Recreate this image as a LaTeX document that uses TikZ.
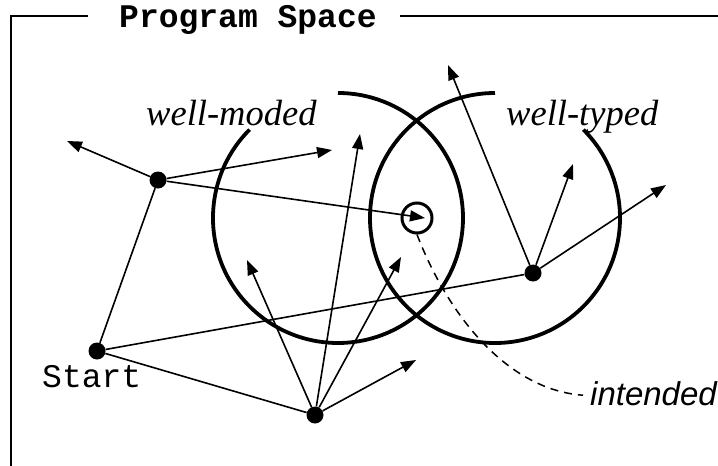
\documentclass[tikz,border=0pt]{standalone}
\usepackage{fontspec}
\setmainfont{Liberation Serif}
\newfontfamily\cmono{Liberation Mono}
\newfontfamily\csans{Liberation Sans}
\usetikzlibrary{arrows.meta}
\begin{document}
\begin{tikzpicture}[x=1pt,y=-1pt,
  dot/.style={circle,fill=black,inner sep=0pt,minimum size=17pt},
  arr/.style={line width=1.6pt,-{Triangle[length=15pt,width=11pt]}},
  link/.style={line width=1.6pt},
  region/.style={line width=3.8pt},
  frameline/.style={line width=1.8pt},
  lbl/.style={inner sep=0pt,anchor=base west},
  bigfont/.style={font=\fontsize{33}{38}\selectfont},
  serfont/.style={font=\fontsize{36.5}{42}\selectfont}]
\useasboundingbox (0,0) rectangle (718,466);

% frame
\coordinate (fbl) at (11,470);
\coordinate (ftl) at (11,16);
\coordinate (fl1) at (88,16);
\coordinate (fr1) at (400,16);
\coordinate (fr2) at (720,16);
\draw[frameline] (fbl) -- (ftl) -- (fl1);
\draw[frameline] (fr1) -- (fr2);
\node[lbl,bigfont] (title) at (119,27) {\cmono\bfseries Program Space};

% regions
\draw[region] (249.6,129.6) arc[start angle=-135,end angle=-450,radius=125];
\draw[region] (495,93) arc[start angle=-90,end angle=-405,radius=125];
\node[lbl,serfont] (wm) at (146,125) {\itshape well-moded};
\node[lbl,serfont] (wt) at (506,125) {\itshape well-typed};

% nodes
\node[dot] (A) at (158,180) {};
\node[dot] (S) at (97,351) {};
\node[dot] (B) at (315,415) {};
\node[dot] (C) at (533,273) {};
\node[circle,draw,line width=3pt,minimum size=30pt,inner sep=0pt] (I) at (417,218) {};
\node[lbl,bigfont] (st) at (42,387) {\cmono Start};
\node[lbl,bigfont] (it) at (590,405) {\csans\itshape intended};

% targets
\coordinate (a1) at (67,141);
\coordinate (a2) at (332,150);
\coordinate (a3) at (425,218);
\coordinate (b1) at (247,260);
\coordinate (b2) at (360,134);
\coordinate (b3) at (401,257);
\coordinate (b4) at (416,360);
\coordinate (c1) at (448,65);
\coordinate (c2) at (573,164);
\coordinate (c3) at (666,185);

% connectors
\draw[link] (A) -- (S);
\draw[link] (S) -- (C);
\draw[link] (S) -- (B);
\draw[arr] (A) -- (a1);
\draw[arr] (A) -- (a2);
\draw[arr] (A) -- (a3);
\draw[arr] (B) -- (b1);
\draw[arr] (B) -- (b2);
\draw[arr] (B) -- (b3);
\draw[arr] (B) -- (b4);
\draw[arr] (C) -- (c1);
\draw[arr] (C) -- (c2);
\draw[arr] (C) -- (c3);

\draw[line width=1.5pt,dash pattern=on 8pt off 6pt] (I.south) .. controls (450,320) and (510,390) .. ([xshift=-7pt,yshift=-2pt]it.west);
\end{tikzpicture}
\end{document}
